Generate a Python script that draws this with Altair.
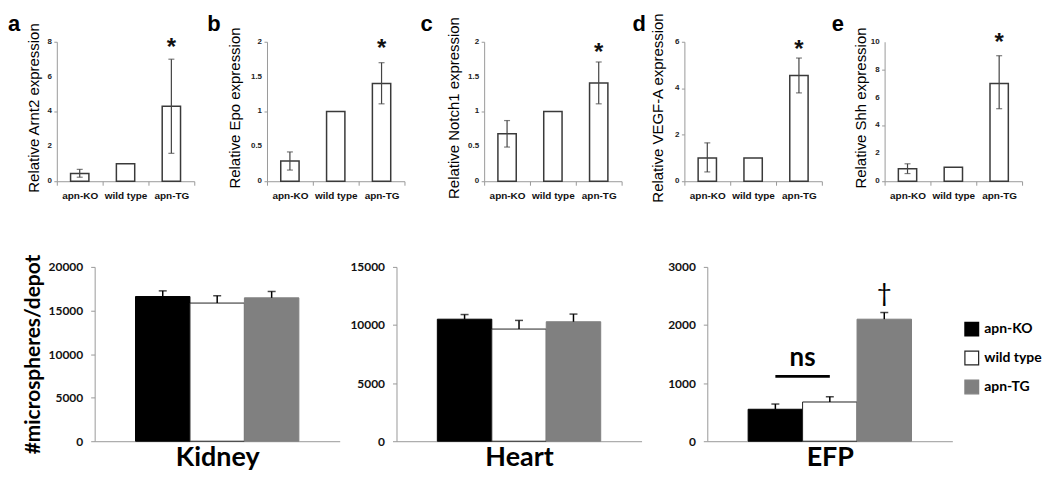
import altair as alt
import pandas as pd

groups = ["apn-KO", "wild type", "apn-TG"]

# ---- top row: relative expression (bar mean, error low, error high) ----
arnt2_mean = [0.45, 1.0, 4.3]
arnt2_lo = [0.23, None, 1.6]
arnt2_hi = [0.68, None, 7.0]
arnt2_ticks = [0, 2, 4, 6, 8]

epo_mean = [0.29, 1.0, 1.40]
epo_lo = [0.16, None, 1.11]
epo_hi = [0.42, None, 1.70]
epo_ticks = [0, 0.5, 1, 1.5, 2]

notch1_mean = [0.68, 1.0, 1.41]
notch1_lo = [0.49, None, 1.11]
notch1_hi = [0.87, None, 1.71]
notch1_ticks = [0, 0.5, 1, 1.5, 2]

vegfa_mean = [1.0, 1.0, 4.55]
vegfa_lo = [0.4, None, 3.8]
vegfa_hi = [1.65, None, 5.3]
vegfa_ticks = [0, 2, 4, 6]

shh_mean = [0.9, 1.0, 7.0]
shh_lo = [0.55, None, 5.2]
shh_hi = [1.25, None, 9.0]
shh_ticks = [0, 2, 4, 6, 8, 10]

star_y = [7.85, 1.95, 1.89, 5.83, 10.2]

# ---- bottom row: microspheres per depot (mean, +SEM) ----
kidney_mean = [16600, 15850, 16450]
kidney_err = [650, 840, 730]
heart_mean = [10500, 9650, 10280]
heart_err = [400, 745, 660]
efp_mean = [550, 675, 2100]
efp_err = [90, 90, 115]
ns_line_y = [1116]
ns_text_y = [1300]
dagger_y = [2530]

TOP_FONT = "Liberation Sans"
BOT_FONT = "Lato"
AX = "#9a9a9a"


def spacer(w):
    d = pd.DataFrame({"z": [0]})
    return alt.Chart(d).mark_point(opacity=0, size=0).encode(
        x=alt.X("z:Q", axis=None), y=alt.Y("z:Q", axis=None)
    ).properties(width=w, height=1)


def top_panel(letter, ytitle, mean, lo, hi, ymax, yvals, sy, letter_left, tpad):
    df = pd.DataFrame({"g": groups, "mean": mean, "lo": lo, "hi": hi})
    ann = pd.DataFrame({"g": ["apn-TG"], "y": [sy], "t": ["*"]})
    lab = pd.DataFrame({"g": ["apn-KO"], "y": [ymax], "t": [letter]})
    tk = pd.DataFrame({"g": ["apn-KO"] * len(yvals), "y": yvals,
                       "t": [f"{v:g}" for v in yvals]})
    xs = alt.Scale(domain=groups, paddingInner=0, paddingOuter=0)
    x = alt.X("g:N", scale=xs, axis=alt.Axis(
        title=None, labelAngle=0, tickBand="extent", tickSize=4, tickColor=AX,
        domainColor=AX, labelFont=TOP_FONT, labelFontWeight="bold", labelFontSize=10,
        labelColor="#111", labelPadding=5))
    xn = alt.X("g:N", scale=xs)
    ys = alt.Scale(domain=[0, ymax], nice=False, zero=True)
    y = alt.Y("mean:Q", scale=ys, axis=alt.Axis(
        title=ytitle, values=yvals, labels=False, grid=False, tickSize=3, tickColor=AX,
        domainColor=AX, titleFont=TOP_FONT, titleFontSize=15,
        titleFontWeight="normal", titleColor="black", titlePadding=tpad, titleY=66))
    base = alt.Chart(df)
    bars = base.mark_bar(width={"band": 0.4}, fill="white", stroke="#3a3a3a",
                         strokeWidth=1.5).encode(x=x, y=y)
    err = base.transform_filter("isValid(datum.hi)")
    rule = err.mark_rule(color="#444", strokeWidth=1.2).encode(
        x=xn, y=alt.Y("lo:Q", scale=ys), y2="hi:Q")
    cap1 = err.mark_tick(orient="horizontal", size=6, thickness=1.2, color="#444").encode(
        x=xn, y=alt.Y("lo:Q", scale=ys))
    cap2 = err.mark_tick(orient="horizontal", size=6, thickness=1.2, color="#444").encode(
        x=xn, y=alt.Y("hi:Q", scale=ys))
    star = alt.Chart(ann).mark_text(font=TOP_FONT, fontSize=24, fontWeight="bold",
                                    baseline="middle", dy=4, color="#111").encode(
        x=xn, y=alt.Y("y:Q", scale=ys), text="t:N")
    letter_mark = alt.Chart(lab).mark_text(
        font=TOP_FONT, fontSize=22, fontWeight="bold", align="left",
        baseline="alphabetic", dx=-(letter_left + 23), dy=-11, color="black").encode(
        x=xn, y=alt.Y("y:Q", scale=ys), text="t:N")
    ticklab = alt.Chart(tk).mark_text(
        font=TOP_FONT, fontSize=8, fontWeight="bold", align="right", baseline="middle",
        dx=-28, color="#222").encode(
        x=xn, y=alt.Y("y:Q", scale=ys), text="t:N")
    return alt.layer(bars, rule, cap1, cap2, star, letter_mark, ticklab).properties(
        width=138, height=140)


def bottom_panel(organ, mean, err, ymax, yvals, ytitle, legend, extras):
    df = pd.DataFrame({"g": groups, "mean": mean, "err": err})
    df["top"] = df["mean"] + df["err"]
    xs = alt.Scale(domain=groups, paddingInner=0, paddingOuter=0.75)
    x = alt.X("g:N", scale=xs, axis=alt.Axis(
        title=organ, labels=False, ticks=False, domainColor=AX, titleFont=BOT_FONT,
        titleFontSize=27, titleFontWeight="bold", titleColor="black", titlePadding=3))
    xn = alt.X("g:N", scale=xs)
    ys = alt.Scale(domain=[0, ymax], nice=False)
    yax = dict(values=yvals, format="d", grid=False, tickSize=4, tickColor=AX,
               domainColor=AX, labelFont=BOT_FONT, labelFontWeight="bold",
               labelFontSize=12, labelColor="#111", labelPadding=8,
               labelOverlap=False, labelFlush=False)
    if ytitle:
        yax.update(title=ytitle, titleFont=BOT_FONT, titleFontSize=21,
                   titleFontWeight="bold", titleColor="black", titlePadding=5)
    else:
        yax.update(title="")
    y = alt.Y("mean:Q", scale=ys, axis=alt.Axis(**yax))
    if legend:
        lg = alt.Legend(title=None, orient="none", legendX=258, legendY=55,
                        symbolType="square", symbolSize=190, symbolStrokeWidth=1.2,
                        labelFont=BOT_FONT, labelFontSize=14, labelFontWeight="bold",
                        labelColor="black", rowPadding=10, labelOffset=5, padding=0)
        lg2 = lg
    else:
        lg = None
        lg2 = None
    fill = alt.Fill("g:N", scale=alt.Scale(domain=groups, range=["#000000", "#ffffff", "#808080"]),
                    legend=lg)
    stroke = alt.Stroke("g:N", scale=alt.Scale(domain=groups, range=["#000000", "#222222", "#808080"]),
                        legend=lg2)
    base = alt.Chart(df)
    bars = base.mark_bar(strokeWidth=1).encode(x=x, y=y, fill=fill, stroke=stroke)
    rule = base.mark_rule(color="black", strokeWidth=1.5).encode(
        x=xn, y=alt.Y("mean:Q", scale=ys), y2="top:Q")
    cap = base.mark_tick(orient="horizontal", size=8, thickness=1.5, color="black").encode(
        x=xn, y=alt.Y("top:Q", scale=ys))
    layers = [bars, rule, cap]
    for e in extras:
        layers.append(e(xs, ys))
    return alt.layer(*layers).properties(width=246, height=175)


def ns_rule(xs, ys):
    d = pd.DataFrame({"g": ["apn-KO"], "g2": ["wild type"], "mean": ns_line_y})
    return alt.Chart(d).mark_rule(color="black", strokeWidth=3).encode(
        x=alt.X("g:N", scale=xs), x2="g2:N",
        y=alt.Y("mean:Q", scale=ys))


def ns_text(xs, ys):
    d = pd.DataFrame({"g": ["wild type"], "mean": ns_text_y, "t": ["ns"]})
    return alt.Chart(d).mark_text(font=BOT_FONT, fontSize=26, fontWeight="bold",
                                  baseline="alphabetic", color="black").encode(
        x=alt.X("g:N", scale=xs, bandPosition=0),
        y=alt.Y("mean:Q", scale=ys), text="t:N")


def dagger(xs, ys):
    d = pd.DataFrame({"g": ["apn-TG"], "mean": dagger_y, "t": ["\u2020"]})
    return alt.Chart(d).mark_text(font=BOT_FONT, fontSize=26, baseline="middle",
                                  color="black").encode(
        x=alt.X("g:N", scale=xs),
        y=alt.Y("mean:Q", scale=ys), text="t:N")


pa = top_panel("a", "Relative Arnt2 expression", arnt2_mean, arnt2_lo, arnt2_hi, 8,
               arnt2_ticks, star_y[0], 49, 12)
pb = top_panel("b", "Relative Epo expression", epo_mean, epo_lo, epo_hi, 2,
               epo_ticks, star_y[1], 60, 21)
pc = top_panel("c", "Relative Notch1 expression", notch1_mean, notch1_lo, notch1_hi, 2,
               notch1_ticks, star_y[2], 64, 19)
pd_ = top_panel("d", "Relative VEGF-A expression", vegfa_mean, vegfa_lo, vegfa_hi, 6,
                vegfa_ticks, star_y[3], 52, 15)
pe = top_panel("e", "Relative Shh expression", shh_mean, shh_lo, shh_hi, 10,
               shh_ticks, star_y[4], 53, 12.5)

top = alt.HConcatChart(
    hconcat=[pa, spacer(73), pb, spacer(80), pc, spacer(63), pd_, spacer(63), pe],
    spacing=0, bounds="flush")

kid = bottom_panel("Kidney", kidney_mean, kidney_err, 20000,
                   [0, 5000, 10000, 15000, 20000], "#microspheres/depot", False, [])
hea = bottom_panel("Heart", heart_mean, heart_err, 15000,
                   [0, 5000, 10000, 15000], None, False, [])
efp = bottom_panel("EFP", efp_mean, efp_err, 3000,
                   [0, 1000, 2000, 3000], None, True, [ns_rule, ns_text, dagger])

bottom = alt.HConcatChart(
    hconcat=[spacer(38), kid, spacer(57), hea, spacer(66), efp],
    spacing=0, bounds="flush").resolve_scale(fill="independent", stroke="independent")

chart = alt.VConcatChart(vconcat=[top, bottom], spacing=51).properties(
    padding={"top": 3, "left": 0, "right": 0, "bottom": 0}, background="white"
).configure_view(stroke=None).configure_axis(labelOverlap=False)

chart.save("out.html", embed_options={"renderer": "svg", "actions": False})
